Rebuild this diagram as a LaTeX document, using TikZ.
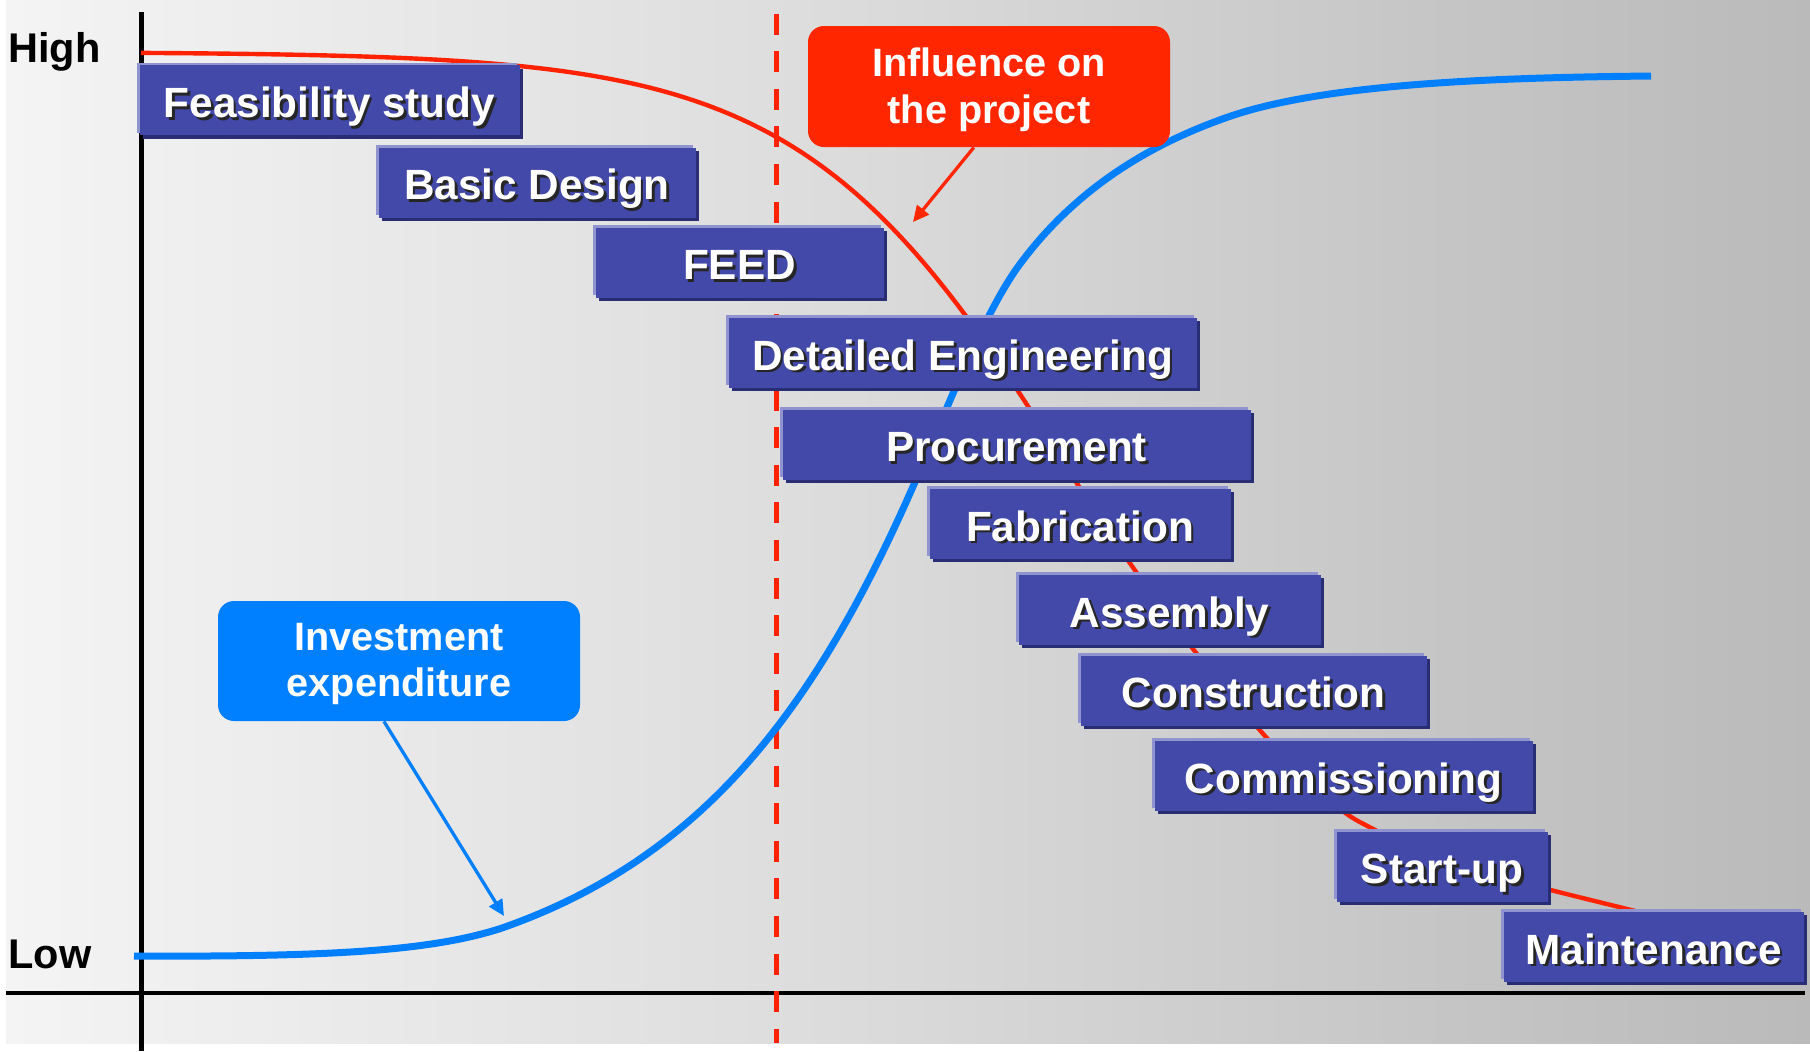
\documentclass[tikz,border=0pt]{standalone}
\usepackage{fontspec}
\setmainfont{Liberation Sans}
\usetikzlibrary{shadows,arrows.meta}
\definecolor{bgA}{RGB}{244,244,244}
\definecolor{bgB}{RGB}{221,221,221}
\definecolor{bgC}{RGB}{197,197,197}
\definecolor{bgD}{RGB}{186,186,186}
\definecolor{boxfill}{RGB}{67,73,168}
\definecolor{boxlight}{RGB}{143,147,207}
\definecolor{boxdark}{RGB}{41,45,115}
\definecolor{calred}{RGB}{255,38,0}
\definecolor{redline}{RGB}{255,34,0}
\definecolor{calblue}{RGB}{0,128,255}
\pgfdeclarehorizontalshading{bgshade}{100bp}{color(0bp)=(bgA); color(25bp)=(bgA); color(47bp)=(bgB); color(65bp)=(bgC); color(75bp)=(bgD); color(100bp)=(bgD)}
\newcommand\shtxt[1]{\rlap{\kern1.4pt\raisebox{-1.4pt}{\color{black!85}#1}}#1}
\begin{document}
\begin{tikzpicture}[x=0.5pt,y=-0.5pt,
  phase/.style={fill=boxfill, inner sep=0pt, text=white, text height=17pt, text depth=0pt,
    minimum height=35pt, font=\fontsize{21.15}{25}\selectfont\bfseries,
    general shadow={fill=boxlight, shadow xshift=-1.3pt, shadow yshift=1.3pt},
    general shadow={fill=boxdark, shadow xshift=1.6pt, shadow yshift=-1.6pt}},
  callout/.style={rounded corners=8pt, inner sep=0pt, text=white, align=center,
    font=\fontsize{19.8}{23.3}\selectfont\bfseries},
  axislabel/.style={anchor=base west, inner sep=0pt, font=\fontsize{20.75}{24}\selectfont\bfseries},
  pointer/.style={line width=1.65pt, -{Triangle[length=8pt,width=7.5pt]}}]
\useasboundingbox (0,0) rectangle (1810,1051);
\fill[white] (0,0) rectangle (1810,1051);
\shade[shading=bgshade] (6,0) rectangle (1810,1043);
% axes
\draw[line width=2.3pt] (141.5,12) -- (141.5,1051);
\draw[line width=2.3pt] (6,993) -- (1805,993);
% dashed line
\draw[redline, line width=2.25pt, dash pattern=on 10.5pt off 8.3pt] (776.5,13.5) -- (776.5,1043);
% influence curve
\draw[redline, line width=2.2pt, line join=round]
  plot[domain=141:1078, samples=140] (\x, {52+866/(1+exp(-(\x-1078)/136))})
  .. controls (1168,628) and (1298,788) .. (1358,821)
  .. controls (1438,865) and (1543,888) .. (1623,908) -- (1680,922);
% investment curve
\draw[calblue, line width=3.5pt]
  (134,956) .. controls (330,957) and (432,951) .. (502,928)
  .. controls (702,858) and (815,711) .. (915,482)
  .. controls (950,402) and (985,311) .. (1020,264)
  .. controls (1080,183) and (1158,141.5) .. (1228,117)
  .. controls (1328,82) and (1511,77.5) .. (1651,76);
% labels
\node[axislabel] (high) at (8,62) {High};
\node[axislabel] (low) at (8,968) {Low};
% phases
\node[phase, minimum width=190pt] (fs) at (329.5,100.4) {\shtxt{Feasibility study}};
\node[phase, minimum width=158.5pt] (bd) at (537,182.5) {\shtxt{Basic Design}};
\node[phase, minimum width=144pt] (feed) at (739.5,262.5) {\shtxt{FEED}};
\node[phase, minimum width=234pt] (de) at (962.5,353) {\shtxt{Detailed Engineering}};
\node[phase, minimum width=234pt] (pr) at (1016.5,444.5) {\shtxt{Procurement}};
\node[phase, minimum width=150.5pt] (fa) at (1080,524) {\shtxt{Fabrication}};
\node[phase, minimum width=151pt] (as) at (1169.5,610) {\shtxt{Assembly}};
\node[phase, minimum width=173pt] (co) at (1253.5,690.5) {\shtxt{Construction}};
\node[phase, minimum width=189pt] (cm) at (1343.5,776) {\shtxt{Commissioning}};
\node[phase, minimum width=105.5pt] (su) at (1442,866.5) {\shtxt{Start-up}};
\node[phase, minimum width=150pt] (ma) at (1653.5,947) {\shtxt{Maintenance}};
% callouts
\node[callout, fill=calred, minimum width=181pt, minimum height=60.5pt] (inf) at (989,86.5) {\rule{0pt}{17.6pt}Influence on\\the project};
\node[callout, fill=calblue, minimum width=181pt, minimum height=60pt] (inv) at (399,661) {\rule{0pt}{16.4pt}Investment\\expenditure};
\coordinate (infT) at (913,222);
\coordinate (invT) at (504,916);
\draw[pointer, calred] (inf.256) -- (infT);
\draw[pointer, calblue] (inv.256) -- (invT);
\end{tikzpicture}
\end{document}
